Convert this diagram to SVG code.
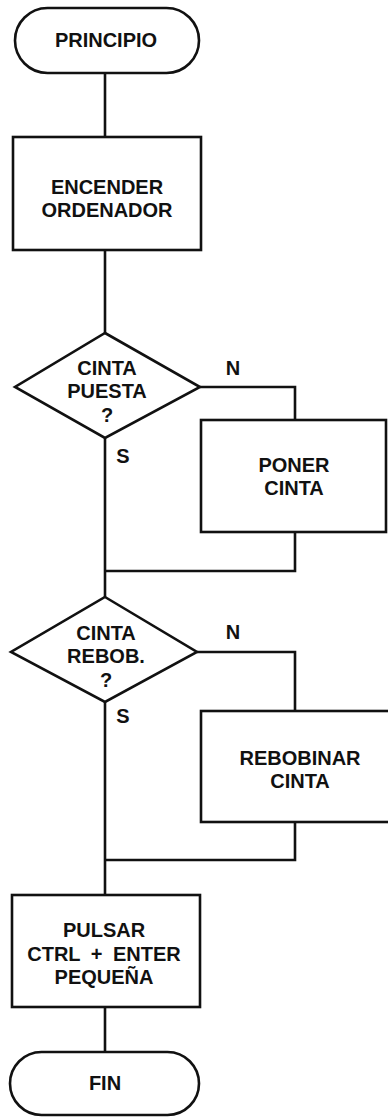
<svg xmlns="http://www.w3.org/2000/svg" width="388" height="1117" viewBox="0 0 388 1117">
<style>
.s{fill:none;stroke:#111;stroke-width:2.6;stroke-linejoin:miter}
.n{fill:#fff;stroke:#111;stroke-width:2.6}
text{font-family:"Liberation Sans",Arial,sans-serif;font-weight:bold;font-size:20px;fill:#111;text-anchor:middle}
</style>
<rect width="388" height="1117" fill="#fff"/>
<g id="connectors" class="s">
<path d="M105 73V137"/>
<path d="M105 250V333"/>
<path d="M200 387H295V420"/>
<path d="M295 532V571H105"/>
<path d="M105 438V597"/>
<path d="M197 652H295V711"/>
<path d="M295 822V860H105"/>
<path d="M105 702V895"/>
<path d="M105 1007V1052"/>
</g>
<g id="labels">
<text x="233" y="375">N</text>
<text x="123" y="463">S</text>
<text x="233" y="639">N</text>
<text x="123" y="723">S</text>
</g>
<g id="start">
<rect class="n" x="15" y="8" width="184" height="65" rx="32.5"/>
<text x="106" y="47">PRINCIPIO</text>
</g>
<g id="encender">
<rect class="n" x="13" y="137" width="188" height="113"/>
<text x="107" y="194">ENCENDER</text>
<text x="107" y="217">ORDENADOR</text>
</g>
<g id="cinta-puesta">
<polygon class="n" points="105,333 200,387 105,438 15,387"/>
<text x="107" y="375">CINTA</text>
<text x="107" y="398">PUESTA</text>
<text x="107" y="422">?</text>
</g>
<g id="poner-cinta">
<rect class="n" x="201" y="420" width="185" height="112"/>
<text x="294" y="472">PONER</text>
<text x="294" y="495">CINTA</text>
</g>
<g id="cinta-rebob">
<polygon class="n" points="105,597 197,652 105,702 11,652"/>
<text x="106" y="640">CINTA</text>
<text x="106" y="663">REBOB.</text>
<text x="106" y="687">?</text>
</g>
<g id="rebobinar">
<rect class="n" x="201" y="711" width="200" height="111"/>
<text x="300" y="765">REBOBINAR</text>
<text x="300" y="788">CINTA</text>
</g>
<g id="pulsar">
<rect class="n" x="12" y="895" width="188" height="112"/>
<text x="104" y="937">PULSAR</text>
<text x="104" y="961" word-spacing="5">CTRL + ENTER</text>
<text x="104" y="984">PEQUEÑA</text>
</g>
<g id="fin">
<rect class="n" x="10" y="1052" width="189" height="63" rx="31.5"/>
<text x="105" y="1090">FIN</text>
</g>
</svg>
